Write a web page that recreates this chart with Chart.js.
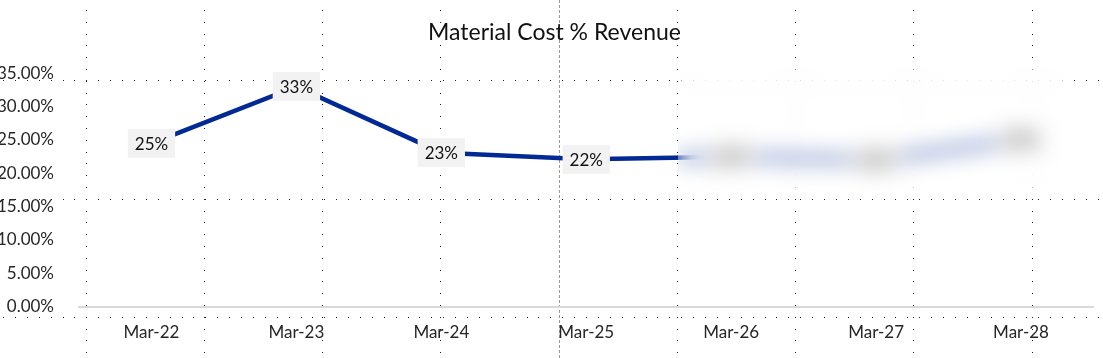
<!DOCTYPE html>
<html>
<head>
<meta charset="utf-8">
<script src="https://cdn.jsdelivr.net/npm/chart.js@4"></script>
<style>
  html, body { margin: 0; padding: 0; background: #fff; }
  #wrap { position: relative; width: 1103px; height: 358px; }
  #redact {
    position: absolute; left: 678px; top: 68px; width: 394px; height: 126px;
    backdrop-filter: blur(11px); -webkit-backdrop-filter: blur(11px);
  }
</style>
</head>
<body>
<div id="wrap">
  <canvas id="chart" width="1103" height="358"></canvas>
  <div id="redact"></div>
</div>
<script>
// Material cost as % of revenue, by financial year end
const categories = ['Mar-22', 'Mar-23', 'Mar-24', 'Mar-25', 'Mar-26', 'Mar-27', 'Mar-28'];
const costPct = [24.5, 33.0, 23.1, 22.1, 22.5, 22.0, 25.0];
const yTicks = [0, 5, 10, 15, 20, 25, 30, 35];
const chartTitle = 'Material Cost % Revenue';

const FONT = 'Lato';

// spreadsheet cell grid showing through the transparent chart, plus the title
const sheetGrid = {
  id: 'sheetGrid',
  beforeDraw(chart) {
    const ctx = chart.ctx;
    ctx.save();
    ctx.fillStyle = '#1a1a1a';
    [86, 204, 322, 440, 677, 795, 913, 1032].forEach((x) => {
      for (let y = 10; y < 358; y += 11.8) ctx.fillRect(x, Math.round(y), 1, 1);
    });
    [80, 199, 317].forEach((y) => {
      for (let x = 3; x < 1103; x += 11.9) ctx.fillRect(Math.round(x), y, 1, 1);
    });
    // page break
    ctx.strokeStyle = '#9a9a9a';
    ctx.lineWidth = 1;
    ctx.setLineDash([3, 2]);
    ctx.beginPath();
    ctx.moveTo(559.5, 0);
    ctx.lineTo(559.5, 358);
    ctx.stroke();
    ctx.setLineDash([]);

    ctx.font = `23px ${FONT}`;
    ctx.fillStyle = '#111111';
    ctx.textAlign = 'center';
    ctx.textBaseline = 'middle';
    ctx.fillText(chartTitle, 554.5, 33);
    ctx.restore();
  },
};

// boxed data labels at each point
const pointLabels = {
  id: 'pointLabels',
  afterDatasetsDraw(chart) {
    const ctx = chart.ctx;
    const meta = chart.getDatasetMeta(0);
    ctx.save();
    ctx.font = `17px ${FONT}`;
    ctx.textAlign = 'center';
    ctx.textBaseline = 'middle';
    meta.data.forEach((pt, i) => {
      const text = Math.round(costPct[i]) + '%';
      const w = ctx.measureText(text).width + 14;
      const h = 29;
      ctx.fillStyle = '#f2f2f2';
      ctx.fillRect(pt.x - w / 2, pt.y - h / 2, w, h);
      ctx.fillStyle = '#111111';
      ctx.fillText(text, pt.x, pt.y + 1);
    });
    ctx.restore();
  },
};

new Chart(document.getElementById('chart'), {
  type: 'line',
  data: {
    labels: categories,
    datasets: [{
      label: chartTitle,
      data: costPct,
      borderColor: '#032a94',
      borderWidth: 4.5,
      pointRadius: 0,
      tension: 0,
      fill: false,
    }],
  },
  options: {
    responsive: false,
    animation: false,
    devicePixelRatio: 1,
    layout: { padding: { left: 0, right: 9.5, top: 73.3, bottom: 0 } },
    scales: {
      x: {
        offset: true,
        grid: { display: false },
        border: { display: true, color: '#d9d9d9', width: 2 },
        ticks: {
          color: '#262626',
          font: { family: FONT, size: 17 },
          padding: 8,
          maxRotation: 0,
        },
        afterFit: (scale) => { scale.height = 51.3; },
      },
      y: {
        min: 0,
        max: 35,
        afterBuildTicks: (scale) => { scale.ticks = yTicks.map((v) => ({ value: v })); },
        grid: { display: false },
        border: { display: false },
        ticks: {
          color: '#262626',
          font: { family: FONT, size: 17 },
          padding: 17,
          callback: (v) => v.toFixed(2) + '%',
        },
        afterFit: (scale) => { scale.width = 79; },
      },
    },
    plugins: {
      legend: { display: false },
      tooltip: { enabled: false },
      title: { display: false },
    },
  },
  plugins: [sheetGrid, pointLabels],
});
</script>
</body>
</html>
